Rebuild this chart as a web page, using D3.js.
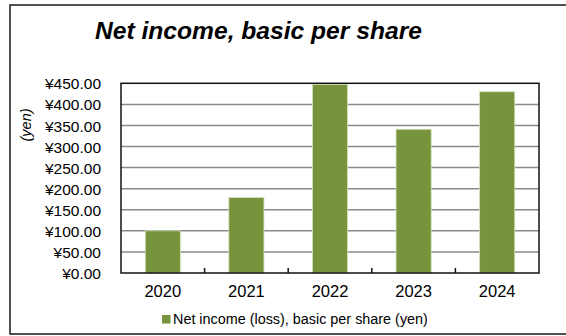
<!DOCTYPE html>
<html>
<head>
<meta charset="utf-8">
<script src="https://cdn.jsdelivr.net/npm/d3@7"></script>
<style>
  html, body { margin: 0; padding: 0; background: #fff; }
  svg { display: block; font-family: "Liberation Sans", Arial, sans-serif; }
</style>
</head>
<body>
<svg id="chart" width="566" height="336"></svg>
<script>
// Net income per share by fiscal year (yen)
const years = ["2020", "2021", "2022", "2023", "2024"];
const netIncomePerShare = [100, 179, 447, 341, 430];
const yTicks = [0, 50, 100, 150, 200, 250, 300, 350, 400, 450];
const titleText = "Net income, basic per share";
const yAxisTitle = "(yen)";
const seriesName = "Net income (loss), basic per share (yen)";

const W = 566, H = 336;
const plot = { left: 121, right: 539, top: 83.3, bottom: 273 };
const barColor = "#77933c";

const svg = d3.select("#chart");

// outer frame (right side runs past the view)
svg.append("rect")
  .attr("x", 10).attr("y", 5)
  .attr("width", 600).attr("height", 329)
  .attr("fill", "#fff")
  .attr("stroke", "#1a1a1a").attr("stroke-width", 1.5);

const x = d3.scaleBand().domain(years).range([plot.left, plot.right]).paddingInner(0.58).paddingOuter(0.29);
const y = d3.scaleLinear().domain([0, 450]).range([plot.bottom, plot.top]);

// gridlines
svg.append("g")
  .selectAll("line")
  .data(yTicks.filter(t => t > 0 && t < 450))
  .join("line")
  .attr("x1", plot.left).attr("x2", plot.right)
  .attr("y1", d => y(d)).attr("y2", d => y(d))
  .attr("stroke", "#8a8a8a").attr("stroke-width", 1.5);

// bars
svg.append("g")
  .selectAll("rect")
  .data(years.map((yr, i) => ({ yr, v: netIncomePerShare[i] })))
  .join("rect")
  .attr("x", d => x(d.yr))
  .attr("y", d => y(d.v))
  .attr("width", x.bandwidth())
  .attr("height", d => y(0) - y(d.v))
  .attr("fill", barColor)
  .attr("stroke", "#d5e2bb").attr("stroke-width", 0.8);

// plot border
svg.append("rect")
  .attr("x", plot.left).attr("y", plot.top)
  .attr("width", plot.right - plot.left).attr("height", plot.bottom - plot.top)
  .attr("fill", "none")
  .attr("stroke", "#111").attr("stroke-width", 1.5);

// y axis labels
const yAxis = d3.axisLeft(y)
  .tickValues(yTicks)
  .tickSize(0)
  .tickPadding(20)
  .tickFormat(d => "¥" + d3.format(".2f")(d));
const gy = svg.append("g").attr("transform", `translate(${plot.left},0)`).call(yAxis);
gy.select(".domain").remove();
gy.selectAll("text")
  .attr("font-family", "'Liberation Sans', Arial, sans-serif")
  .attr("font-size", 15.5).attr("fill", "#000")
  .attr("dy", "0.36em");

// x axis: category labels with inward ticks at category boundaries
const xAxis = d3.axisBottom(x).tickSize(0).tickPadding(12);
const gx = svg.append("g").attr("transform", `translate(0,${plot.bottom})`).call(xAxis);
gx.select(".domain").remove();
gx.selectAll("text")
  .attr("font-family", "'Liberation Sans', Arial, sans-serif")
  .attr("font-size", 16.5).attr("fill", "#000");

const step = x.step();
svg.append("g")
  .selectAll("line")
  .data(years.slice(1))
  .join("line")
  .attr("x1", d => x(d) - x.paddingInner() * step / 2)
  .attr("x2", d => x(d) - x.paddingInner() * step / 2)
  .attr("y1", plot.bottom).attr("y2", plot.bottom - 5)
  .attr("stroke", "#111").attr("stroke-width", 1.5);

// y axis title
svg.append("text")
  .attr("transform", "translate(31,125) rotate(-90)")
  .attr("text-anchor", "middle")
  .attr("font-style", "italic")
  .attr("font-size", 14.5)
  .text(yAxisTitle);

// chart title, sized to its span
const title = svg.append("text")
  .attr("x", 95).attr("y", 39)
  .attr("font-weight", "bold").attr("font-style", "italic")
  .attr("font-size", 20)
  .text(titleText);
const tw = title.node().getComputedTextLength();
title.attr("font-size", 20 * 327 / tw);

// legend
svg.append("rect")
  .attr("x", 162).attr("y", 315)
  .attr("width", 8.5).attr("height", 8.5)
  .attr("fill", barColor);
const leg = svg.append("text")
  .attr("x", 173).attr("y", 323.5)
  .attr("font-size", 14)
  .text(seriesName);
const lw = leg.node().getComputedTextLength();
leg.attr("font-size", 14 * 255 / lw);
</script>
</body>
</html>
